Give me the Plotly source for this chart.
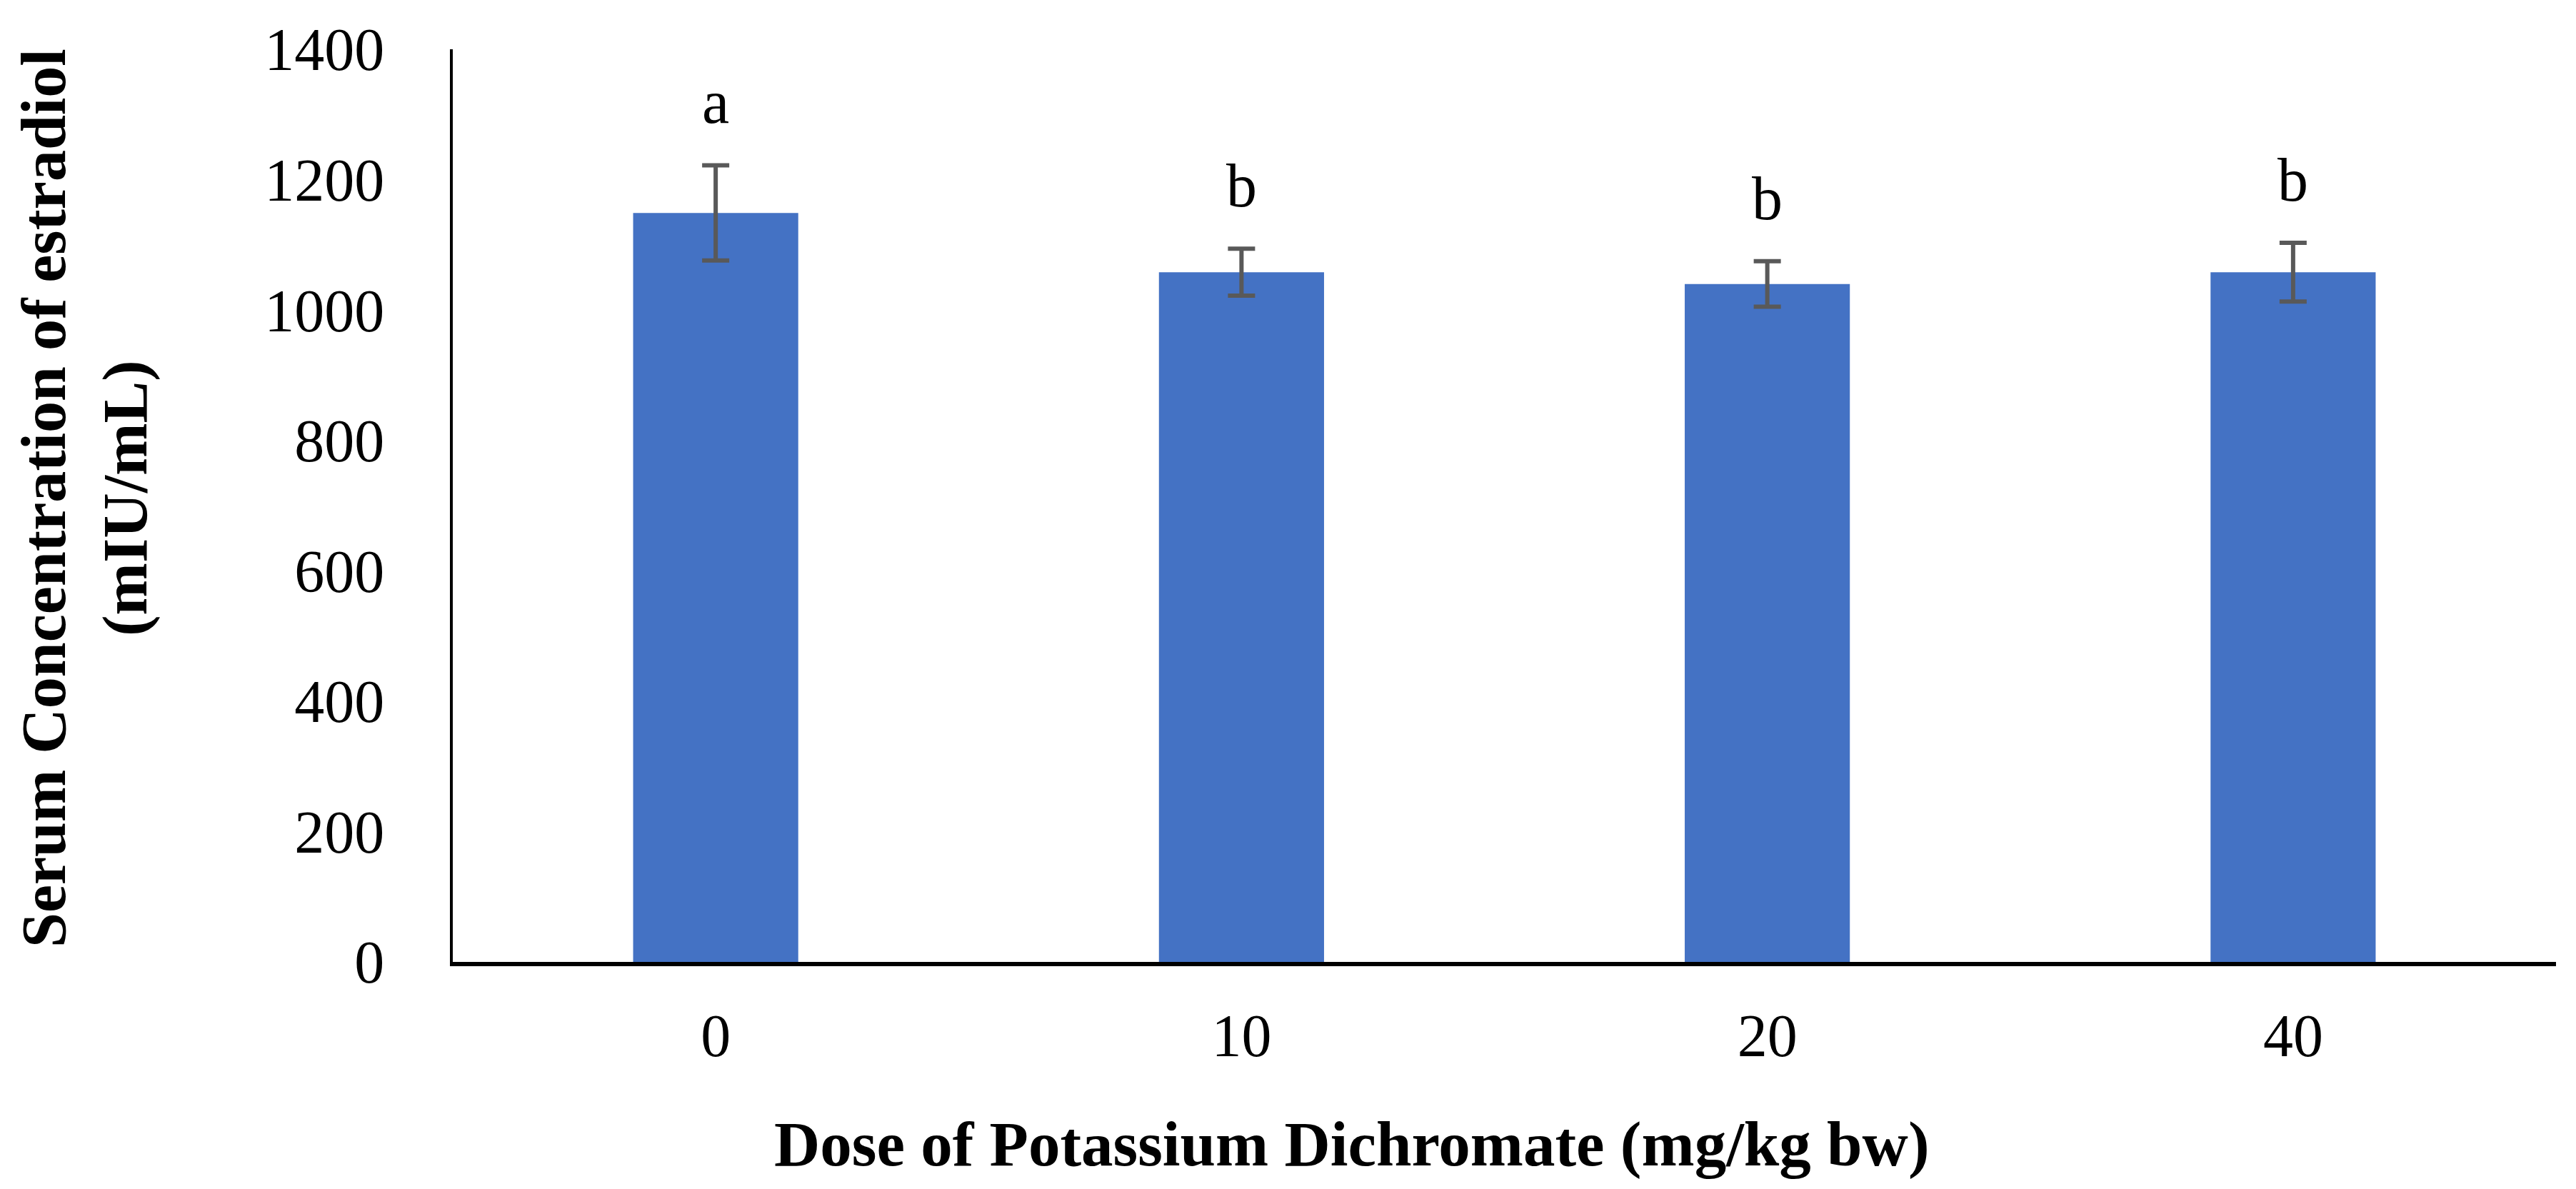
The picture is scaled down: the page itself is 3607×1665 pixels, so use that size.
import plotly.graph_objects as go

doses = ["0", "10", "20", "40"]
estradiol = [1149, 1058, 1040, 1058]
sem = [73, 36, 35, 45]
letters = ["a", "b", "b", "b"]

W, H = 3607, 1665
L, R, T, B = 626, 36, 61, 326
serif = "Liberation Serif"

fig = go.Figure()
fig.add_trace(go.Bar(
    x=doses, y=estradiol,
    marker=dict(color="#4472C4", line=dict(width=0)),
    error_y=dict(type="data", array=sem, visible=True,
                 color="#595959", thickness=6, width=19),
    showlegend=False,
))

# significance letters above the error bars (category index on x)
for i, (v, e, s) in enumerate(zip(estradiol, sem, letters)):
    fig.add_annotation(x=i, y=v + e, text=s, showarrow=False,
                       xref="x", yref="y", yanchor="bottom", yshift=38,
                       font=dict(family=serif, size=86, color="black"))

pw = W - L - R
ph = H - T - B

# axis titles as annotations so they can be placed like the original
fig.add_annotation(text="<b>Dose of Potassium Dichromate (mg/kg bw)</b>",
                   xref="paper", yref="paper",
                   x=(1885 - L) / pw, y=-(1594 - (H - B)) / ph,
                   xanchor="center", yanchor="middle", showarrow=False,
                   font=dict(family=serif, size=89, color="black"))
fig.add_annotation(text="<b>Serum Concentration of estradiol<br>(mIU/mL)</b>",
                   xref="paper", yref="paper",
                   x=(110 - L) / pw, y=((H - B) - 690) / ph,
                   xanchor="center", yanchor="middle", textangle=-90,
                   showarrow=False,
                   font=dict(family=serif, size=88, color="black"))

fig.update_layout(
    width=W, height=H,
    margin=dict(l=L, r=R, t=T, b=B, pad=0),
    plot_bgcolor="white", paper_bgcolor="white",
    bargap=0.686,
    font=dict(family=serif, size=84, color="black"),
)
fig.update_xaxes(type="category", range=[-0.5, 3.5], showline=True,
                 linecolor="black", linewidth=6,
                 ticks="", showgrid=False, zeroline=False,
                 ticklabelstandoff=25,
                 tickfont=dict(family=serif, size=84, color="black"))
fig.update_yaxes(range=[0, 1400], dtick=200, showline=True, linecolor="black",
                 linewidth=4, ticks="", showgrid=False, zeroline=False,
                 ticklabelstandoff=75,
                 tickfont=dict(family=serif, size=84, color="black"))

fig.write_html("out.html")
